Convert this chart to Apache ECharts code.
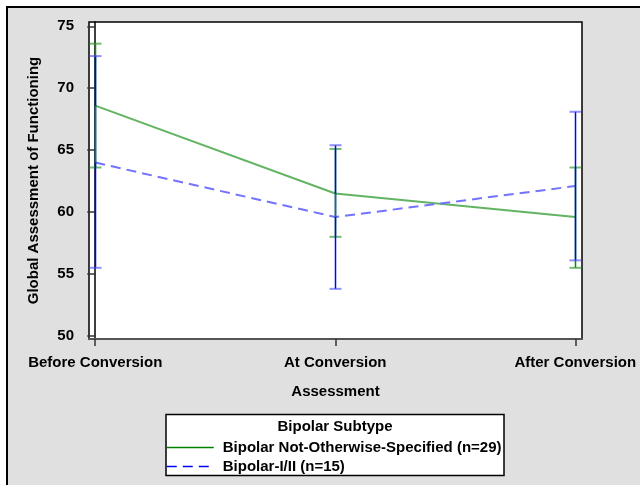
<!DOCTYPE html>
<html>
<head>
<meta charset="utf-8">
<script src="https://cdn.jsdelivr.net/npm/echarts@6/dist/echarts.min.js"></script>
<style>
html,body{margin:0;padding:0;background:#fff;}
#c{width:640px;height:485px;}
</style>
</head>
<body>
<div id="c"></div>
<script>
// ---- data ----
const categories = ['Before Conversion', 'At Conversion', 'After Conversion'];
const seriesNames = ['Bipolar Not-Otherwise-Specified (n=29)', 'Bipolar-I/II (n=15)'];
const nosMean = [68.6, 61.5, 59.6];
const nosLow  = [63.6, 58.0, 55.5];
const nosHigh = [73.6, 65.1, 63.6];
const bipMean = [64.0, 59.6, 62.1];
const bipLow  = [55.5, 53.8, 56.1];
const bipHigh = [72.6, 65.4, 68.1];
const yTicks = [50, 55, 60, 65, 70, 75];
const xTicks = [0, 1, 2];
const legendTitle = 'Bipolar Subtype';
const xTitle = 'Assessment';
const yTitle = 'Global Assessment of Functioning';

const FONT = '"Liberation Sans", Arial, sans-serif';
const FS = 15;
const barDark = ['#0a8a0a', '#0000ff'];
const capLight = ['rgba(40,150,40,0.65)', 'rgba(70,70,255,0.6)'];

// error-bar halves in drawing order: green upper, blue upper, green lower, blue lower
const errData = [];
categories.forEach((c, i) => errData.push([i, nosMean[i], nosHigh[i], 0]));
categories.forEach((c, i) => errData.push([i, bipMean[i], bipHigh[i], 1]));
categories.forEach((c, i) => errData.push([i, nosMean[i], nosLow[i], 0]));
categories.forEach((c, i) => errData.push([i, bipMean[i], bipLow[i], 1]));

const chart = echarts.init(document.getElementById('c'), null, {renderer: 'canvas'});
chart.setOption({
  animation: false,
  backgroundColor: '#ffffff',
  textStyle: {fontFamily: FONT},
  graphic: [
    {type: 'rect', z: -100, shape: {x: 7, y: 7, width: 700, height: 600},
     style: {fill: '#e0e0e0', stroke: '#000', lineWidth: 2}},
    {type: 'rect', z: 1, shape: {x: 166, y: 414.5, width: 338, height: 61},
     style: {fill: '#fff', stroke: '#000', lineWidth: 1.5}},
    {type: 'text', z: 2, x: 335, y: 427,
     style: {text: legendTitle, fill: '#000', font: 'bold ' + FS + 'px ' + FONT, align: 'center', verticalAlign: 'middle'}}
  ],
  grid: {left: 89, top: 22, right: 58, bottom: 146, show: true, backgroundColor: '#fff', borderColor: '#000', borderWidth: 1.5},
  legend: {
    orient: 'vertical', left: 166, top: 440, padding: 0,
    itemWidth: 47, itemHeight: 14, itemGap: 4,
    textStyle: {fontFamily: FONT, fontWeight: 'bold', fontSize: FS, color: '#000', padding: [0, 0, 0, 4]},
    data: [
      {name: seriesNames[0], itemStyle: {color: 'rgba(0,0,0,0)', borderWidth: 0, opacity: 0},
       lineStyle: {color: '#008000', width: 1.5, type: 'solid'}},
      {name: seriesNames[1], itemStyle: {color: 'rgba(0,0,0,0)', borderWidth: 0, opacity: 0},
       lineStyle: {color: '#0000ff', width: 1.5, type: [10, 6]}}
    ]
  },
  xAxis: {
    type: 'value', min: -0.026, max: 2.028,
    name: xTitle, nameLocation: 'middle', nameGap: 45,
    nameTextStyle: {fontFamily: FONT, fontWeight: 'bold', fontSize: FS, color: '#000'},
    axisLine: {show: true, lineStyle: {color: '#555', width: 2}},
    axisTick: {show: true, customValues: xTicks, length: 7, lineStyle: {color: '#333', width: 1.5}},
    axisLabel: {customValues: xTicks, margin: 16, fontFamily: FONT, fontWeight: 'bold', fontSize: FS, color: '#000',
      formatter: v => categories[Math.round(v)]},
    splitLine: {show: false}
  },
  yAxis: {
    type: 'value', min: 49.75, max: 75.35,
    name: yTitle, nameLocation: 'middle', nameGap: 48,
    nameTextStyle: {fontFamily: FONT, fontWeight: 'bold', fontSize: FS, color: '#000'},
    axisLine: {show: true, lineStyle: {color: '#000', width: 1.5}},
    axisTick: {show: true, customValues: yTicks, length: 8, lineStyle: {color: '#333', width: 1.5}},
    axisLabel: {customValues: yTicks, margin: 15, fontFamily: FONT, fontWeight: 'bold', fontSize: FS, color: '#000'},
    splitLine: {show: false}
  },
  series: [
    {name: seriesNames[0], type: 'line', symbol: 'none', z: 2,
     data: nosMean.map((v, i) => [i, v]),
     lineStyle: {color: '#62b462', width: 2}, itemStyle: {color: '#62b462'}},
    {name: seriesNames[1], type: 'line', symbol: 'none', z: 2,
     data: bipMean.map((v, i) => [i, v]),
     lineStyle: {color: '#7373ff', width: 2, type: [10, 6]}, itemStyle: {color: '#7373ff'}},
    {name: 'err', type: 'custom', z: 3, data: errData,
     encode: {x: 0, y: [1, 2]},
     renderItem: function (params, api) {
       const x = api.value(0), a = api.value(1), b = api.value(2), g = api.value(3);
       const p1 = api.coord([x, a]);
       const p2 = api.coord([x, b]);
       const px = Math.round(p1[0]) + 0.5;
       return {type: 'group', children: [
         {type: 'line', shape: {x1: px, y1: p1[1], x2: px, y2: p2[1]},
          style: {stroke: barDark[g], lineWidth: 1.5}},
         {type: 'line', shape: {x1: px - 6, y1: p2[1], x2: px + 6, y2: p2[1]},
          style: {stroke: capLight[g], lineWidth: 2}}
       ]};
     }}
  ]
});
</script>
</body>
</html>
